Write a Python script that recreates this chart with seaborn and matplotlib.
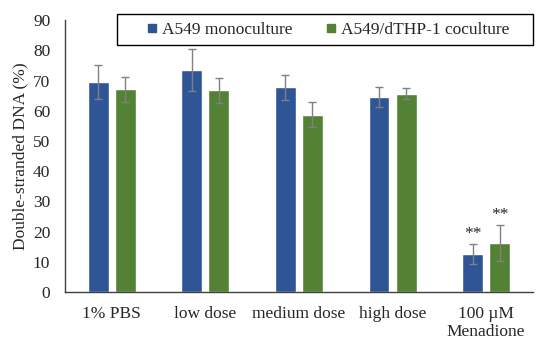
import matplotlib
matplotlib.use("Agg")
import matplotlib.pyplot as plt
from matplotlib.patches import Rectangle
from matplotlib.lines import Line2D
import seaborn as sns
import pandas as pd
import numpy as np

categories = ["1% PBS", "low dose", "medium dose", "high dose", "100 \u00b5M\nMenadione"]
series = ["A549 monoculture", "A549/dTHP-1 coculture"]
mono_mean = [69.6, 73.5, 67.8, 64.7, 12.5]
mono_sd = [5.7, 6.9, 4.2, 3.3, 3.3]
co_mean = [67.1, 66.8, 58.7, 65.7, 16.1]
co_sd = [4.1, 4.1, 4.1, 1.9, 6.0]
sig_labels = ["", "", "", "", "**"]
colors = ["#2F5597", "#548235"]

sns.set_style("white")
plt.rcParams["font.family"] = ["Liberation Serif", "DejaVu Serif"]

df = pd.DataFrame({
    "cat": categories * 2,
    "series": [series[0]] * 5 + [series[1]] * 5,
    "mean": mono_mean + co_mean,
    "sd": mono_sd + co_sd,
})

FS = 12.5
fig = plt.figure(figsize=(5.5, 3.47), dpi=100)
ax = fig.add_axes([0.118, 0.1585, 0.851, 0.7835])
sns.barplot(data=df, x="cat", y="mean", hue="series", palette=colors,
            errorbar=None, width=0.58, gap=0.23, ax=ax, saturation=1, legend=False)

# error bars and significance marks
patches = [p for p in ax.patches if p.get_height() > 0]
for s_i, (means, sds) in enumerate([(mono_mean, mono_sd), (co_mean, co_sd)]):
    bars = patches[s_i * 5:(s_i + 1) * 5]
    xs = [b.get_x() + b.get_width() / 2 for b in bars]
    ax.errorbar(xs, means, yerr=sds, fmt="none", ecolor="#808080",
                elinewidth=1, capsize=3, capthick=1)
    for x, m, sd, lab in zip(xs, means, sds, sig_labels):
        if lab:
            ax.text(x, m + sd + 0.6, lab, ha="center", va="bottom", fontsize=FS)

ax.set_ylim(0, 90)
ax.set_yticks(range(0, 91, 10))
ax.set_xlim(-0.5, 4.5)
ax.set_xlabel("")
ax.set_ylabel("Double-stranded DNA (%)", fontsize=FS, labelpad=3.5)
ax.tick_params(axis="y", length=0, labelsize=FS, pad=10.5)
ax.tick_params(axis="x", length=0, labelsize=FS, pad=10)
for sp in ["top", "right"]:
    ax.spines[sp].set_visible(False)
for sp in ["left", "bottom"]:
    ax.spines[sp].set_color("#404040")
    ax.spines[sp].set_linewidth(1)

# legend inside a wide box above the bars
W, H = 550.0, 347.0
bx0, bx1, by0, by1 = 117 / W, 533 / W, 1 - 45 / H, 1 - 14 / H
fig.patches.append(Rectangle((bx0, by0), bx1 - bx0, by1 - by0, transform=fig.transFigure,
                             facecolor="white", edgecolor="black", linewidth=1, zorder=5))
handles = [Line2D([], [], linestyle="none", marker="s", markersize=5.5,
                  markerfacecolor=c, markeredgecolor=c) for c in colors]
leg = fig.legend(handles, series, ncol=2, loc="center",
                 bbox_to_anchor=((bx0 + bx1) / 2 + 0.006, (by0 + by1) / 2),
                 frameon=False, fontsize=FS,
                 handlelength=0.45, handletextpad=0.35, columnspacing=2.0,
                 borderpad=0.0)
leg.set_zorder(6)

fig.savefig("out.png", dpi=100)
